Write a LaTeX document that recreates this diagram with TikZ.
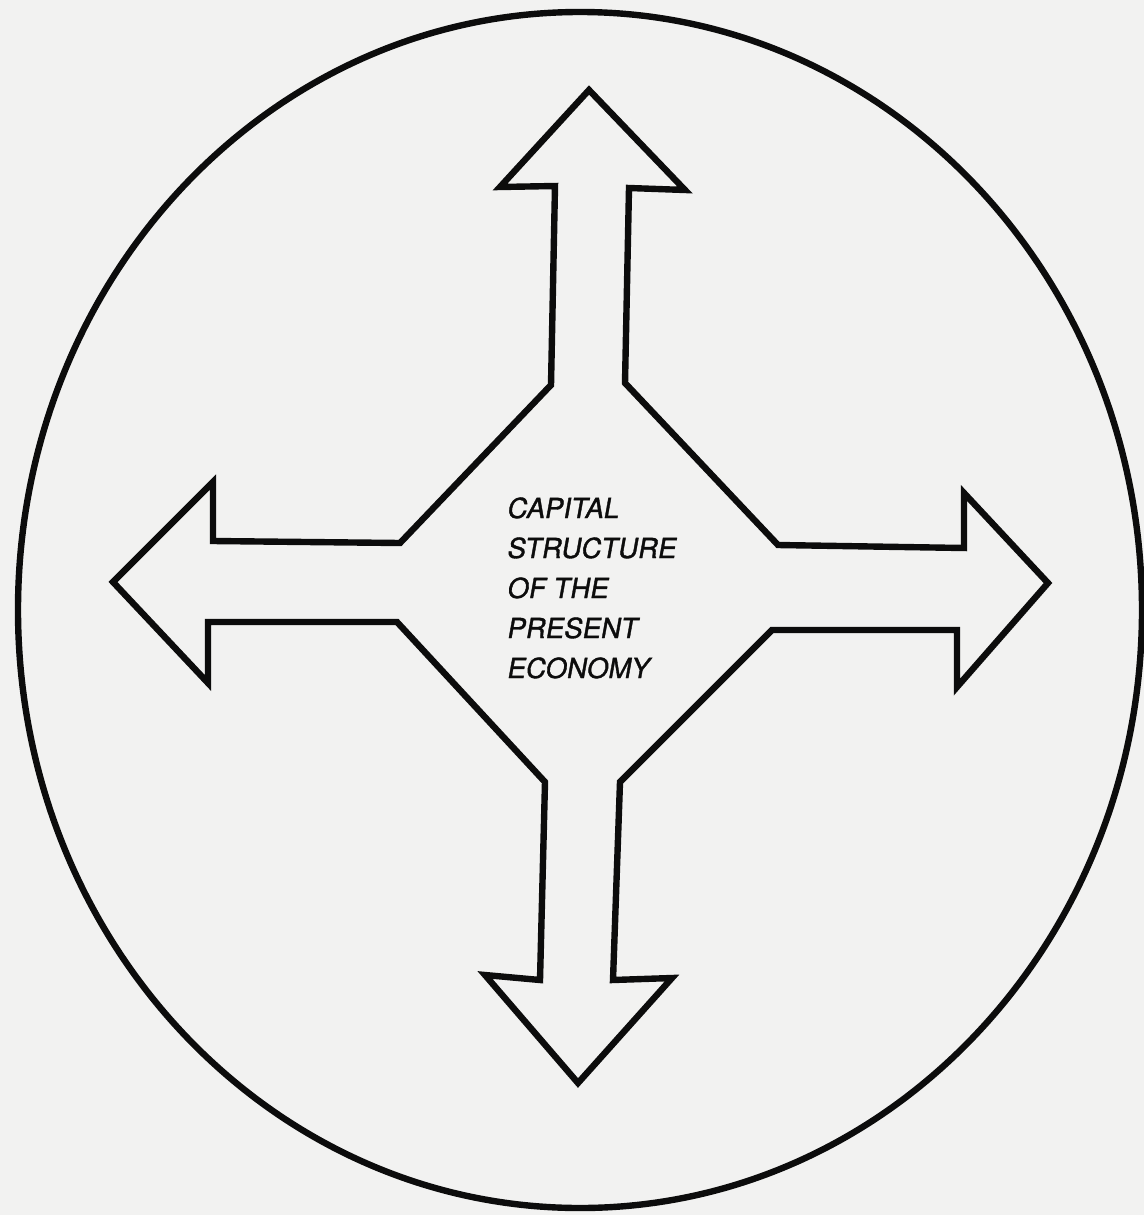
\documentclass[tikz,border=0pt]{standalone}
\usepackage{fontspec}
\setmainfont{TeX Gyre Heros}
\newfontfamily\capfont[FakeBold=1.3,FakeSlant=0.18]{TeX Gyre Heros}
\definecolor{paper}{RGB}{242,242,241}
\definecolor{ink}{RGB}{12,12,12}
\begin{document}
\begin{tikzpicture}[x=0.5pt,y=-0.5pt,
  outline/.style={draw=ink,line width=3.2pt,line join=miter},
  caption/.style={align=left,font=\capfont\fontsize{13.8}{20}\selectfont,text=ink,inner sep=0pt}]
\fill[paper] (0,0) rectangle (1144,1215);
\useasboundingbox (0,0) rectangle (1144,1215);
\draw[outline] (580,610) ellipse [x radius=562, y radius=598];
\draw[outline]
  (589,90) -- (685,190) -- (629,188) -- (625,383) -- (778,545)
  -- (964,548) -- (964,493) -- (1048,583) -- (957,687) -- (957,630)
  -- (772,630) -- (620,782) -- (613,980) -- (672,978) -- (578,1083)
  -- (485,975) -- (540,980) -- (545,782) -- (397,622) -- (208,622)
  -- (208,683) -- (113,582) -- (213,482) -- (213,541) -- (400,543)
  -- (551,385) -- (555,186) -- (500,187) -- cycle;
\node[caption,anchor=north west] (label) at (506,497)
  {CAPITAL\\STRUCTURE\\OF THE\\PRESENT\\ECONOMY};
\end{tikzpicture}
\end{document}
